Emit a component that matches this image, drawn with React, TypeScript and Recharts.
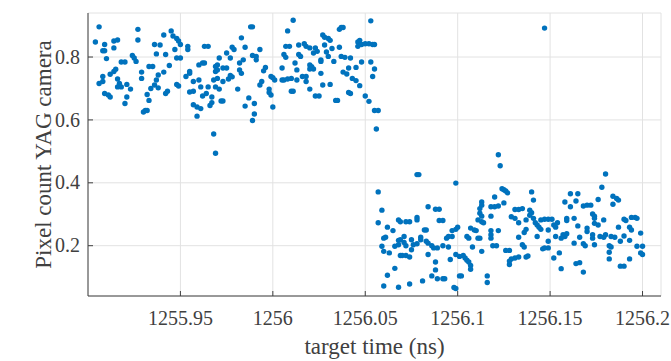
import React from 'react';
import {
    ScatterChart,
    Scatter,
    XAxis,
    YAxis,
    CartesianGrid,
    Label
} from 'recharts';

// axis setup
const xDomain = [1255.9, 1256.21];
const yDomain = [0.04, 0.94];
const xTicks = [1255.95, 1256, 1256.05, 1256.1, 1256.15, 1256.2];
const yTicks = [0.2, 0.4, 0.6, 0.8];
const xTitle = 'target time (ns)';
const yTitle = 'Pixel count YAG camera';

// [target time (ns), pixel count], strip by strip
const shots1255_90: [number, number][] = [
    [1255.906, 0.896], [1255.927, 0.888], [1255.927, 0.854], [1255.904, 0.848], [1255.909, 0.84],
    [1255.914, 0.829], [1255.914, 0.851], [1255.916, 0.854], [1255.908, 0.82], [1255.909, 0.82],
    [1255.91, 0.795], [1255.918, 0.784], [1255.92, 0.784], [1255.924, 0.805], [1255.925, 0.797],
    [1255.926, 0.786], [1255.933, 0.77], [1255.935, 0.77], [1255.929, 0.752], [1255.929, 0.732],
    [1255.912, 0.745], [1255.914, 0.754], [1255.915, 0.761], [1255.908, 0.738], [1255.906, 0.716],
    [1255.908, 0.722], [1255.916, 0.73], [1255.917, 0.716], [1255.918, 0.705], [1255.921, 0.713],
    [1255.923, 0.698], [1255.916, 0.705], [1255.909, 0.684], [1255.911, 0.679], [1255.912, 0.673],
    [1255.92, 0.652], [1255.921, 0.673], [1255.932, 0.681], [1255.933, 0.662], [1255.93, 0.625],
    [1255.931, 0.63], [1255.932, 0.63], [1255.936, 0.84], [1255.939, 0.838], [1255.937, 0.81],
    [1255.941, 0.87], [1255.938, 0.743], [1255.937, 0.727], [1255.936, 0.711], [1255.938, 0.702],
    [1255.941, 0.752], [1255.934, 0.7], [1255.943, 0.691], [1255.942, 0.684], [1255.945, 0.883],
    [1255.946, 0.867], [1255.948, 0.859], [1255.949, 0.851], [1255.947, 0.824], [1255.95, 0.84],
    [1255.942, 0.808], [1255.944, 0.773], [1255.948, 0.797], [1255.95, 0.797], [1255.948, 0.713],
    [1255.949, 0.708]
];

const shots1255_95: [number, number][] = [
    [1255.954, 0.834], [1255.954, 0.824], [1255.963, 0.834], [1255.965, 0.834], [1255.988, 0.896],
    [1255.989, 0.896], [1255.983, 0.861], [1255.985, 0.831], [1255.993, 0.824], [1255.978, 0.831],
    [1255.979, 0.824], [1255.975, 0.813], [1255.971, 0.797], [1255.977, 0.797], [1255.982, 0.781],
    [1255.984, 0.791], [1255.989, 0.805], [1255.991, 0.802], [1255.991, 0.791], [1255.96, 0.775],
    [1255.962, 0.781], [1255.963, 0.781], [1255.969, 0.77], [1255.97, 0.775], [1255.973, 0.765],
    [1255.975, 0.765], [1255.955, 0.754], [1255.955, 0.748], [1255.953, 0.738], [1255.969, 0.754],
    [1255.97, 0.759], [1255.977, 0.741], [1255.978, 0.737], [1255.976, 0.73], [1255.982, 0.759],
    [1255.983, 0.748], [1255.996, 0.767], [1255.995, 0.756], [1255.999, 0.738], [1256.0, 0.734],
    [1256.001, 0.727], [1255.96, 0.727], [1255.957, 0.722], [1255.968, 0.727], [1255.97, 0.732],
    [1255.973, 0.722], [1255.981, 0.698], [1255.955, 0.689], [1255.957, 0.691], [1255.961, 0.705],
    [1255.965, 0.705], [1255.969, 0.705], [1255.971, 0.698], [1255.993, 0.711], [1255.994, 0.722],
    [1255.998, 0.698], [1255.998, 0.687], [1255.999, 0.679], [1255.962, 0.676], [1255.964, 0.684],
    [1255.967, 0.673], [1255.972, 0.66], [1255.973, 0.66], [1255.987, 0.67], [1255.99, 0.652],
    [1255.985, 0.644], [1255.957, 0.648], [1255.959, 0.641], [1255.961, 0.636], [1255.966, 0.646],
    [1255.967, 0.655], [1255.959, 0.612], [1255.99, 0.619], [1255.989, 0.598], [1256.0, 0.641],
    [1255.968, 0.555], [1255.969, 0.494]
];

const shots1256_00: [number, number][] = [
    [1256.011, 0.917], [1256.008, 0.883], [1256.053, 0.915], [1256.036, 0.888], [1256.037, 0.894],
    [1256.038, 0.894], [1256.027, 0.87], [1256.028, 0.863], [1256.03, 0.859], [1256.031, 0.853],
    [1256.007, 0.834], [1256.009, 0.834], [1256.014, 0.838], [1256.017, 0.842], [1256.018, 0.834],
    [1256.02, 0.829], [1256.023, 0.829], [1256.024, 0.818], [1256.028, 0.838], [1256.032, 0.827],
    [1256.036, 0.831], [1256.046, 0.848], [1256.047, 0.853], [1256.046, 0.834], [1256.048, 0.84],
    [1256.05, 0.842], [1256.052, 0.842], [1256.054, 0.84], [1256.055, 0.84], [1256.006, 0.808],
    [1256.007, 0.799], [1256.014, 0.808], [1256.015, 0.802], [1256.022, 0.813], [1256.029, 0.816],
    [1256.03, 0.802], [1256.026, 0.791], [1256.037, 0.802], [1256.039, 0.799], [1256.042, 0.797],
    [1256.012, 0.781], [1256.013, 0.759], [1256.02, 0.775], [1256.021, 0.769], [1256.02, 0.762],
    [1256.022, 0.762], [1256.026, 0.786], [1256.033, 0.786], [1256.041, 0.765], [1256.045, 0.767],
    [1256.048, 0.784], [1256.053, 0.784], [1256.005, 0.765], [1256.055, 0.762], [1256.005, 0.727],
    [1256.006, 0.727], [1256.008, 0.73], [1256.01, 0.732], [1256.013, 0.727], [1256.016, 0.738],
    [1256.018, 0.738], [1256.018, 0.722], [1256.026, 0.748], [1256.038, 0.752], [1256.04, 0.746],
    [1256.043, 0.732], [1256.045, 0.725], [1256.054, 0.738], [1256.027, 0.711], [1256.031, 0.713],
    [1256.047, 0.709], [1256.01, 0.691], [1256.011, 0.691], [1256.02, 0.698], [1256.023, 0.676],
    [1256.025, 0.676], [1256.041, 0.687], [1256.042, 0.684], [1256.034, 0.662], [1256.035, 0.662],
    [1256.05, 0.676], [1256.052, 0.659], [1256.055, 0.63], [1256.057, 0.63], [1256.056, 0.571]
];

const shots1256_05: [number, number][] = [
    [1256.078, 0.426], [1256.079, 0.426], [1256.099, 0.399], [1256.057, 0.371], [1256.084, 0.324],
    [1256.059, 0.313], [1256.088, 0.316], [1256.09, 0.316], [1256.057, 0.273], [1256.068, 0.282],
    [1256.069, 0.276], [1256.072, 0.276], [1256.074, 0.276], [1256.078, 0.282], [1256.078, 0.29],
    [1256.09, 0.28], [1256.092, 0.28], [1256.062, 0.259], [1256.065, 0.248], [1256.082, 0.25],
    [1256.083, 0.25], [1256.1, 0.259], [1256.099, 0.252], [1256.097, 0.248], [1256.06, 0.224],
    [1256.061, 0.227], [1256.068, 0.217], [1256.069, 0.219], [1256.071, 0.229], [1256.075, 0.219],
    [1256.08, 0.227], [1256.08, 0.219], [1256.094, 0.224], [1256.095, 0.229], [1256.097, 0.229],
    [1256.059, 0.198], [1256.06, 0.182], [1256.063, 0.177], [1256.066, 0.198], [1256.068, 0.203],
    [1256.071, 0.21], [1256.072, 0.2], [1256.076, 0.203], [1256.075, 0.187], [1256.078, 0.206],
    [1256.083, 0.214], [1256.084, 0.208], [1256.086, 0.2], [1256.087, 0.193], [1256.089, 0.193],
    [1256.092, 0.2], [1256.095, 0.196], [1256.069, 0.169], [1256.07, 0.169], [1256.072, 0.169],
    [1256.074, 0.164], [1256.084, 0.172], [1256.099, 0.172], [1256.101, 0.166], [1256.103, 0.169],
    [1256.096, 0.156], [1256.088, 0.148], [1256.066, 0.128], [1256.088, 0.123], [1256.062, 0.106],
    [1256.086, 0.104], [1256.089, 0.095], [1256.092, 0.095], [1256.093, 0.095], [1256.101, 0.104],
    [1256.102, 0.104], [1256.06, 0.072], [1256.068, 0.068], [1256.074, 0.078], [1256.081, 0.088],
    [1256.098, 0.067], [1256.099, 0.064]
];

const shots1256_10: [number, number][] = [
    [1256.122, 0.489], [1256.123, 0.454], [1256.124, 0.381], [1256.125, 0.378], [1256.126, 0.374],
    [1256.127, 0.368], [1256.14, 0.371], [1256.141, 0.345], [1256.12, 0.355], [1256.125, 0.336],
    [1256.113, 0.339], [1256.113, 0.329], [1256.112, 0.318], [1256.118, 0.324], [1256.12, 0.324],
    [1256.122, 0.326], [1256.118, 0.294], [1256.112, 0.303], [1256.113, 0.294], [1256.111, 0.282],
    [1256.113, 0.276], [1256.114, 0.273], [1256.131, 0.315], [1256.133, 0.315], [1256.135, 0.318],
    [1256.139, 0.313], [1256.14, 0.305], [1256.139, 0.297], [1256.129, 0.292], [1256.131, 0.287],
    [1256.133, 0.273], [1256.137, 0.282], [1256.141, 0.287], [1256.142, 0.273], [1256.143, 0.266],
    [1256.144, 0.259], [1256.145, 0.252], [1256.145, 0.282], [1256.147, 0.284], [1256.149, 0.284],
    [1256.151, 0.284], [1256.152, 0.266], [1256.153, 0.259], [1256.154, 0.273], [1256.149, 0.25],
    [1256.107, 0.256], [1256.109, 0.25], [1256.11, 0.248], [1256.118, 0.248], [1256.122, 0.248],
    [1256.105, 0.229], [1256.106, 0.224], [1256.111, 0.224], [1256.112, 0.224], [1256.118, 0.235],
    [1256.118, 0.224], [1256.137, 0.252], [1256.136, 0.242], [1256.133, 0.227], [1256.143, 0.229],
    [1256.153, 0.229], [1256.119, 0.2], [1256.121, 0.2], [1256.108, 0.196], [1256.135, 0.203],
    [1256.136, 0.196], [1256.149, 0.214], [1256.149, 0.193], [1256.146, 0.19], [1256.147, 0.193],
    [1256.113, 0.182], [1256.126, 0.185], [1256.128, 0.185], [1256.155, 0.177], [1256.152, 0.161],
    [1256.129, 0.158], [1256.128, 0.151], [1256.128, 0.14], [1256.131, 0.161], [1256.133, 0.164],
    [1256.137, 0.164], [1256.138, 0.167], [1256.104, 0.161], [1256.105, 0.154], [1256.106, 0.148],
    [1256.107, 0.137], [1256.107, 0.125], [1256.116, 0.104], [1256.116, 0.083], [1256.147, 0.892]
];

const shots1256_15: [number, number][] = [
    [1256.18, 0.428], [1256.178, 0.386], [1256.161, 0.365], [1256.165, 0.365], [1256.158, 0.339],
    [1256.164, 0.342], [1256.161, 0.324], [1256.168, 0.326], [1256.17, 0.329], [1256.172, 0.329],
    [1256.176, 0.347], [1256.184, 0.357], [1256.186, 0.35], [1256.187, 0.345], [1256.184, 0.332],
    [1256.173, 0.301], [1256.174, 0.294], [1256.174, 0.287], [1256.159, 0.287], [1256.159, 0.28],
    [1256.163, 0.287], [1256.179, 0.282], [1256.19, 0.284], [1256.191, 0.28], [1256.194, 0.29],
    [1256.196, 0.29], [1256.197, 0.287], [1256.165, 0.263], [1256.174, 0.271], [1256.176, 0.266],
    [1256.17, 0.256], [1256.17, 0.245], [1256.187, 0.259], [1256.193, 0.259], [1256.194, 0.25],
    [1256.199, 0.24], [1256.157, 0.235], [1256.158, 0.229], [1256.159, 0.238], [1256.156, 0.224],
    [1256.166, 0.227], [1256.173, 0.235], [1256.173, 0.224], [1256.177, 0.229], [1256.179, 0.227],
    [1256.18, 0.235], [1256.183, 0.229], [1256.185, 0.227], [1256.19, 0.231], [1256.163, 0.208],
    [1256.168, 0.206], [1256.169, 0.2], [1256.174, 0.203], [1256.182, 0.2], [1256.183, 0.196],
    [1256.188, 0.214], [1256.193, 0.217], [1256.197, 0.198], [1256.2, 0.198], [1256.199, 0.177],
    [1256.2, 0.172], [1256.182, 0.179], [1256.182, 0.158], [1256.193, 0.158], [1256.156, 0.127],
    [1256.164, 0.143], [1256.166, 0.146], [1256.168, 0.116], [1256.188, 0.135], [1256.19, 0.135]
];

const allShots = [
    ...shots1255_90,
    ...shots1255_95,
    ...shots1256_00,
    ...shots1256_05,
    ...shots1256_10,
    ...shots1256_15
].map(([t, c]) => ({ t, c }));

const axisColor = '#404040';
const gridColor = '#e2e2e2';
const dotColor = '#0072BD';
const serif = '"Liberation Serif", "Times New Roman", serif';

const XTick = (props: any) => {
    const { x, y, payload } = props;
    return (
        <g>
            <line x1={x} y1={y} x2={x} y2={y - 5} stroke={axisColor} />
            <text x={x} y={y + 29} textAnchor="middle" fontSize={20} fontFamily={serif} fill={axisColor}>
                {String(payload.value)}
            </text>
        </g>
    );
};

const YTick = (props: any) => {
    const { x, y, payload } = props;
    return (
        <g>
            <line x1={x} y1={y} x2={x + 5} y2={y} stroke={axisColor} />
            <text x={x - 8} y={y} dy="0.33em" textAnchor="end" fontSize={20} fontFamily={serif} fill={axisColor}>
                {String(payload.value)}
            </text>
        </g>
    );
};

const Dot = (props: any) => <circle cx={props.cx} cy={props.cy} r={2.7} fill={dotColor} />;

export default function App() {
    return (
        <div style={{ position: 'absolute', left: 0, top: 0, width: 671, height: 361, background: '#fff' }}>
            <ScatterChart width={671} height={361} margin={{ top: 13, right: 10, bottom: 0, left: 0 }}>
                <CartesianGrid stroke={gridColor} />
                <XAxis
                    dataKey="t"
                    type="number"
                    domain={xDomain}
                    ticks={xTicks}
                    allowDataOverflow
                    height={65}
                    tickSize={0}
                    tickMargin={0}
                    tickLine={false}
                    stroke={axisColor}
                    tick={XTick}
                >
                    <Label
                        content={(p: any) => {
                            const vb = p.viewBox;
                            return (
                                <text x={vb.x + vb.width / 2} y={vb.y + 58} textAnchor="middle" fontSize={23} fontFamily={serif} fill={axisColor}>
                                    {xTitle}
                                </text>
                            );
                        }}
                    />
                </XAxis>
                <YAxis
                    dataKey="c"
                    type="number"
                    domain={yDomain}
                    ticks={yTicks}
                    allowDataOverflow
                    width={88}
                    tickSize={0}
                    tickMargin={0}
                    tickLine={false}
                    stroke={axisColor}
                    tick={YTick}
                >
                    <Label
                        content={(p: any) => {
                            const vb = p.viewBox;
                            const cx = vb.x + 51;
                            const cy = vb.y + vb.height / 2;
                            return (
                                <text x={cx} y={cy} transform={`rotate(-90, ${cx}, ${cy})`} textAnchor="middle" fontSize={23} fontFamily={serif} fill={axisColor}>
                                    {yTitle}
                                </text>
                            );
                        }}
                    />
                </YAxis>
                <XAxis
                    xAxisId="top"
                    orientation="top"
                    type="number"
                    domain={xDomain}
                    ticks={xTicks}
                    allowDataOverflow
                    mirror
                    height={0}
                    tick={false}
                    tickSize={5}
                    stroke={axisColor}
                />
                <YAxis
                    yAxisId="right"
                    orientation="right"
                    type="number"
                    domain={yDomain}
                    ticks={yTicks}
                    allowDataOverflow
                    mirror
                    width={0}
                    tick={false}
                    tickSize={5}
                    stroke={axisColor}
                />
                <Scatter data={allShots} shape={Dot} isAnimationActive={false} />
            </ScatterChart>
        </div>
    );
}
